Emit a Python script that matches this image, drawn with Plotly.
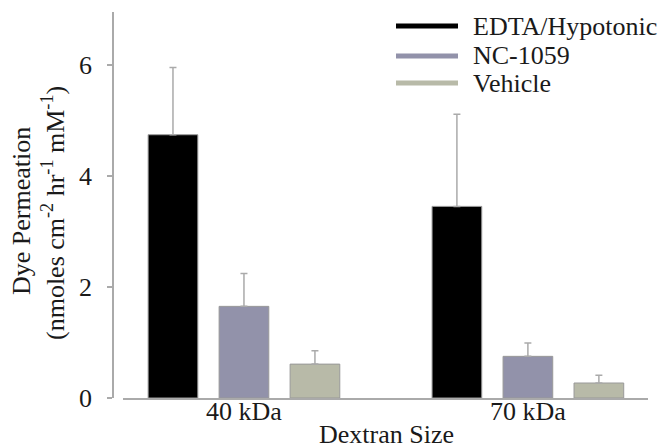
import plotly.graph_objects as go

# Dye permeation by dextran size and treatment
sizes = ["40 kDa", "70 kDa"]
series = ["EDTA/Hypotonic", "NC-1059", "Vehicle"]
means = {
    "EDTA/Hypotonic": [4.74, 3.45],
    "NC-1059": [1.65, 0.75],
    "Vehicle": [0.61, 0.27],
}
errors = {
    "EDTA/Hypotonic": [1.21, 1.66],
    "NC-1059": [0.59, 0.24],
    "Vehicle": [0.24, 0.14],
}
colors = {
    "EDTA/Hypotonic": "#000000",
    "NC-1059": "#9292aa",
    "Vehicle": "#b8baa8",
}

FONT = "Liberation Serif"
TXT = "#1a1a1a"
GRAY = "#aaaaaa"

W, H = 667, 448
ML, MR, MT, MB = 113, 19, 12, 50
PW = W - ML - MR
PH = H - MT - MB


def px_x(px):
    return (px - ML) / PW


def px_y(py):
    return 1 - (py - MT) / PH


fig = go.Figure()
for name in series:
    fig.add_trace(go.Bar(
        x=sizes,
        y=means[name],
        name=name,
        marker=dict(color=colors[name], line=dict(color="#999999", width=1)),
        error_y=dict(type="data", array=errors[name], symmetric=False,
                     arrayminus=[0] * len(sizes), color=GRAY,
                     thickness=1.5, width=3.5),
        showlegend=False,
    ))

# Legend drawn as line keys with labels
leg_y = [26, 56, 83]
for name, ly in zip(series, leg_y):
    fig.add_shape(type="line", xref="paper", yref="paper",
                  x0=px_x(396), x1=px_x(458), y0=px_y(ly), y1=px_y(ly),
                  line=dict(color=colors[name], width=5))
    fig.add_annotation(xref="paper", yref="paper", x=px_x(471), y=px_y(ly),
                       text=name, showarrow=False, xanchor="left",
                       yanchor="middle", font=dict(family=FONT, size=26, color=TXT))

# Two-line y-axis title
fig.add_annotation(xref="paper", yref="paper", x=px_x(21), y=px_y(211),
                   text="Dye Permeation", textangle=-90, showarrow=False,
                   xanchor="center", yanchor="middle",
                   font=dict(family=FONT, size=26, color=TXT))
fig.add_annotation(xref="paper", yref="paper", x=px_x(54), y=px_y(213),
                   text="(nmoles cm<sup>-2</sup> hr<sup>-1</sup> mM<sup>-1</sup>)",
                   textangle=-90, showarrow=False,
                   xanchor="center", yanchor="middle",
                   font=dict(family=FONT, size=26, color=TXT))

# x-axis title
fig.add_annotation(xref="paper", yref="paper", x=px_x(386), y=px_y(435),
                   text="Dextran Size", showarrow=False,
                   xanchor="center", yanchor="middle",
                   font=dict(family=FONT, size=26, color=TXT))

fig.update_layout(
    width=W, height=H,
    margin=dict(l=ML, r=MR, t=MT, b=MB),
    paper_bgcolor="white", plot_bgcolor="white",
    barmode="group", bargap=0.25, bargroupgap=0.3,
    font=dict(family=FONT, size=25, color=TXT),
    xaxis=dict(
        domain=[10 / PW, 1], range=[-0.426, 1.423],
        automargin=False,
        showline=True, linecolor=GRAY, linewidth=1.5,
        ticks="", ticklen=0, showgrid=False, zeroline=False,
        tickfont=dict(family=FONT, size=26, color=TXT),
        ticklabelstandoff=-11,
    ),
    yaxis=dict(
        anchor="free", position=0, range=[0, 6.95],
        automargin=False,
        tickvals=[0, 2, 4, 6],
        showline=True, linecolor=GRAY, linewidth=1.5,
        ticks="outside", ticklen=5, tickcolor=GRAY, tickwidth=1.5,
        showgrid=False, zeroline=False,
        tickfont=dict(family=FONT, size=26, color=TXT),
        ticklabelstandoff=10,
    ),
)

fig.write_html("out.html")
